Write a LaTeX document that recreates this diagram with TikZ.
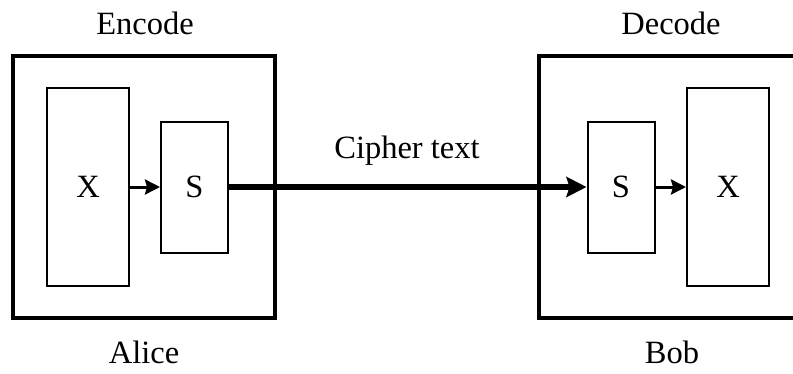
\documentclass[tikz,border=0pt]{standalone}
\usepackage{fontspec}
\setmainfont{Liberation Serif}
\usetikzlibrary{arrows.meta}
\tikzset{
  party/.style={draw, line width=4pt, minimum width=262pt, minimum height=262pt, inner sep=0pt},
  block/.style={draw, line width=2pt, inner sep=0pt, font=\fontsize{32.5}{38}\selectfont},
  xblock/.style={block, minimum width=82pt, minimum height=198pt},
  sblock/.style={block, minimum width=67pt, minimum height=131pt},
  lbl/.style={inner sep=0pt, font=\fontsize{32.5}{38}\selectfont},
}
\begin{document}
\begin{tikzpicture}[x=1pt, y=-1pt]
\useasboundingbox (0,0) rectangle (793,373);
\clip (0,0) rectangle (793,373);
% Alice side
\node[party] (alice) at (144,187) {};
\node[xblock] (ax) at (88,187) {X};
\node[sblock] (as) at (194.5,187) {S};
% Bob side
\node[party] (bob) at (670,187) {};
\node[sblock] (bs) at (621,187) {S};
\node[xblock] (bx) at (728,187) {X};
% labels
\node[lbl] (enc) at (145,23) {Encode};
\node[lbl] (dec) at (671,23) {Decode};
\node[lbl] (alicename) at (144,352) {Alice};
\node[lbl] (bobname) at (672,352) {Bob};
\node[lbl] (cipher) at (407,151) {Cipher text};
% arrows
\draw[line width=3pt, -{Stealth[length=15pt, width=15pt, inset=2pt]}] (ax) -- (as);
\draw[line width=3pt, -{Stealth[length=15pt, width=15pt, inset=2pt]}] (bs) -- (bx);
\draw[line width=6pt, -{Stealth[length=20pt, width=20pt, inset=3pt]}] (as) -- (bs);
\end{tikzpicture}
\end{document}
